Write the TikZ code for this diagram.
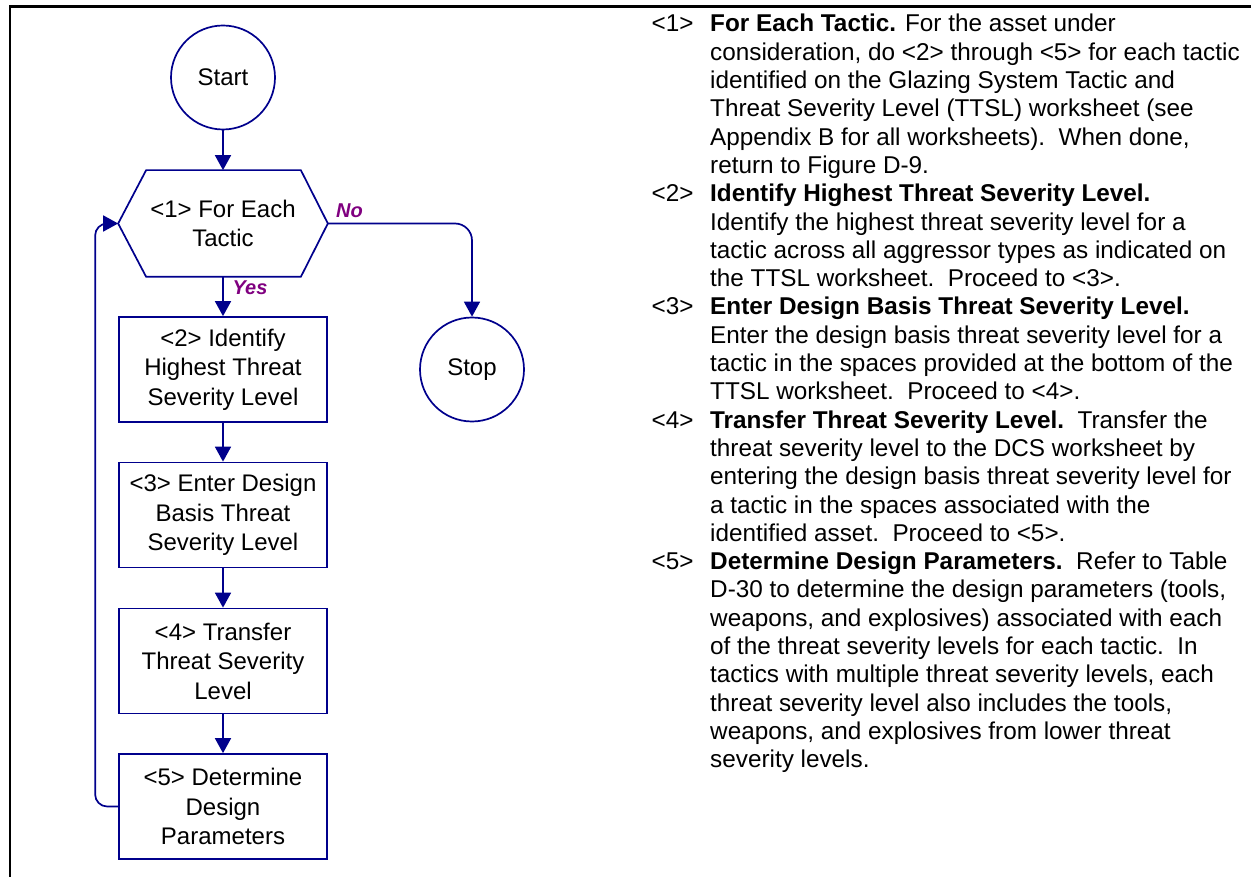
\documentclass[tikz,border=0pt]{standalone}
\usepackage{fontspec}
\setmainfont{Liberation Sans}
\usetikzlibrary{arrows.meta}
\definecolor{flowblue}{RGB}{0,0,140}
\definecolor{lblpurple}{RGB}{128,0,128}
\newcommand\twosp{\ \ }
\newcommand\itemlbl[1]{\makebox[58.5pt][l]{#1}}
\begin{document}
\begin{tikzpicture}[x=1pt,y=-1pt,
  flow/.style={draw=flowblue, line width=1.7pt},
  conn/.style={flow, -{Triangle[length=15pt,width=16pt]}},
  stepbox/.style={flow, rectangle, minimum width=208pt, minimum height=105pt, inner sep=0pt, align=center, font=\fontsize{24}{29.5}\selectfont},
  term/.style={flow, circle, minimum size=104pt, inner sep=0pt, font=\fontsize{24}{29.5}\selectfont},
  lbl/.style={font=\fontsize{20}{24}\selectfont\bfseries\itshape, text=lblpurple, inner sep=0pt},
]
\useasboundingbox (0,0) rectangle (1251,877);
\draw[line width=2.2pt] (10,890) -- (10,6.5) -- (1262,6.5);

% flowchart
\node[term] (start) at (223,77.5) {Start};
\node[stepbox, draw=none] (hex) at (223,223.5) {<1> For Each\\Tactic};
\draw[flow] (hex.west) -- ([xshift=28pt]hex.north west) -- ([xshift=-27pt]hex.north east)
  -- (hex.east) -- ([xshift=-27pt]hex.south east) -- ([xshift=28pt]hex.south west) -- cycle;
\node[stepbox] (b2) at (223,369.5) {<2> Identify\\Highest Threat\\Severity Level};
\node[stepbox] (b3) at (223,515) {<3> Enter Design\\Basis Threat\\Severity Level};
\node[stepbox] (b4) at (223,661) {<4> Transfer\\Threat Severity\\Level};
\node[stepbox] (b5) at (223,806.5) {<5> Determine\\Design\\Parameters};
\node[term] (stop) at (472,369.5) {Stop};

\draw[conn] (start.south) -- (hex.north);
\draw[conn] (hex.south) -- (b2.north);
\draw[conn] (b2.south) -- (b3.north);
\draw[conn] (b3.south) -- (b4.north);
\draw[conn] (b4.south) -- (b5.north);
\draw[conn, rounded corners=17pt] (hex.east) -| (stop.north);
\draw[conn, rounded corners=12pt] (b5.west) -- ++(-23,0) |- (hex.west);

\node[lbl] (no) at (349.5,211) {No};
\node[lbl] (yes) at (250,288) {Yes};

% description text
\node[anchor=north west, inner sep=0pt, font=\fontsize{24.3}{28.3}\selectfont] (txt) at (651.5,11.9) {%
\begin{tabular}{@{}l@{}l@{}}
\itemlbl{<1>} & \textbf{For Each Tactic.} For the asset under\\
 & consideration, do <2> through <5> for each tactic\\
 & identified on the Glazing System Tactic and\\
 & Threat Severity Level (TTSL) worksheet (see\\
 & Appendix B for all worksheets).\twosp When done,\\
 & return to Figure D-9.\\
\itemlbl{<2>} & \textbf{Identify Highest Threat Severity Level.}\\
 & Identify the highest threat severity level for a\\
 & tactic across all aggressor types as indicated on\\
 & the TTSL worksheet.\twosp Proceed to <3>.\\
\itemlbl{<3>} & \textbf{Enter Design Basis Threat Severity Level.}\\
 & Enter the design basis threat severity level for a\\
 & tactic in the spaces provided at the bottom of the\\
 & TTSL worksheet.\twosp Proceed to <4>.\\
\itemlbl{<4>} & \textbf{Transfer Threat Severity Level.}\twosp Transfer the\\
 & threat severity level to the DCS worksheet by\\
 & entering the design basis threat severity level for\\
 & a tactic in the spaces associated with the\\
 & identified asset.\twosp Proceed to <5>.\\
\itemlbl{<5>} & \textbf{Determine Design Parameters.}\twosp Refer to Table\\
 & D-30 to determine the design parameters (tools,\\
 & weapons, and explosives) associated with each\\
 & of the threat severity levels for each tactic.\twosp In\\
 & tactics with multiple threat severity levels, each\\
 & threat severity level also includes the tools,\\
 & weapons, and explosives from lower threat\\
 & severity levels.
\end{tabular}};
\end{tikzpicture}
\end{document}
